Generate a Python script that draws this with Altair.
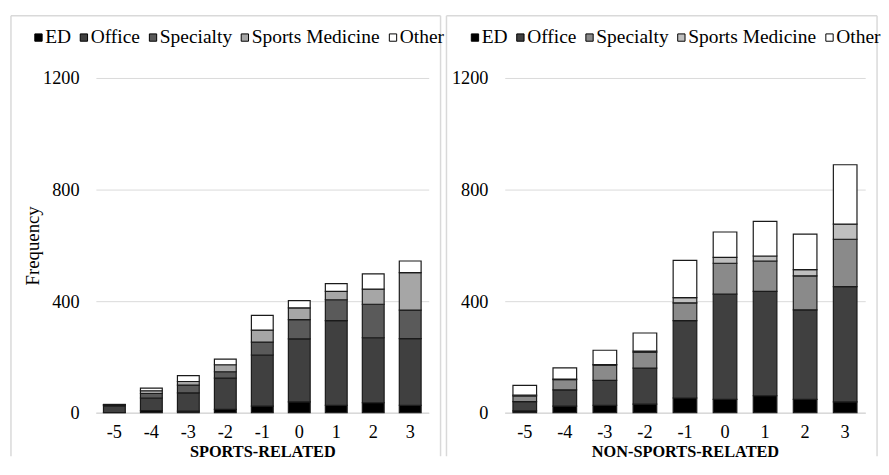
import altair as alt
import pandas as pd

periods = ["-5", "-4", "-3", "-2", "-1", "0", "1", "2", "3"]
categories = ["ED", "Office", "Specialty", "Sports Medicine", "Other"]

# SPORTS-RELATED
sp_ed = [1, 8, 6, 12, 24, 39, 27, 36, 27]
sp_office = [24, 45, 65, 112, 183, 226, 303, 233, 239]
sp_specialty = [3, 16, 28, 23, 46, 69, 75, 120, 102]
sp_sportsmed = [1, 10, 13, 25, 43, 42, 30, 54, 134]
sp_other = [1, 9, 21, 20, 53, 26, 28, 55, 42]

# NON-SPORTS-RELATED
ns_ed = [7, 24, 27, 31, 53, 48, 61, 48, 39]
ns_office = [33, 58, 89, 129, 277, 377, 374, 321, 413]
ns_specialty = [20, 37, 55, 57, 64, 111, 109, 122, 170]
ns_sportsmed = [3, 2, 2, 4, 19, 21, 18, 22, 54]
ns_other = [35, 40, 51, 65, 133, 91, 124, 127, 213]

sp_colors = ["#000000", "#404040", "#5a5a5a", "#a6a6a6", "#ffffff"]
ns_colors = ["#000000", "#404040", "#8a8a8a", "#bfbfbf", "#ffffff"]

FONT = "Liberation Serif"


def long_df(series):
    rows = []
    for ci, (cat, vals) in enumerate(zip(categories, series)):
        for p, v in zip(periods, vals):
            rows.append({"period": p, "category": cat, "count": v, "idx": ci})
    return pd.DataFrame(rows)


def panel(series, colors, xtitle, ytitle, width, legend_x, border_left):
    df = long_df(series)
    yaxis_kwargs = dict(
        values=[0, 400, 800, 1200], format="d",
        labelFont=FONT, labelFontSize=18.5, labelColor="black", labelPadding=17,
        ticks=False, domain=False, grid=True, gridColor="#d9d9d9", gridWidth=1,
    )
    if ytitle:
        yaxis = alt.Axis(title=ytitle, titleFont=FONT, titleFontSize=19,
                         titleFontWeight="normal", titleColor="black",
                         titlePadding=0, **yaxis_kwargs)
    else:
        yaxis = alt.Axis(title=None, **yaxis_kwargs)

    bars = alt.Chart(df).mark_bar(stroke="#1a1a1a", strokeWidth=1.2).encode(
        x=alt.X("period:N", sort=periods,
                scale=alt.Scale(paddingInner=0.41, paddingOuter=0.205),
                axis=alt.Axis(title=xtitle, labelAngle=0, labelFont=FONT,
                              labelFontSize=18.5, labelColor="black",
                              labelPadding=10, ticks=False, domain=True,
                              domainColor="#d9d9d9", domainWidth=1.5,
                              titleFont=FONT, titleFontSize=16.5,
                              titleFontWeight="bold", titleColor="black",
                              titlePadding=3, grid=False)),
        y=alt.Y("count:Q", stack="zero",
                scale=alt.Scale(domain=[0, 1200], nice=False), axis=yaxis),
        color=alt.Color("category:N",
                        scale=alt.Scale(domain=categories, range=colors),
                        legend=alt.Legend(orient="none", legendX=legend_x,
                                          legendY=-51, direction="horizontal",
                                          columns=5, title=None,
                                          symbolType="square", symbolSize=55,
                                          symbolStrokeColor="black",
                                          symbolStrokeWidth=1,
                                          labelFont=FONT, labelFontSize=19.7,
                                          labelColor="black",
                                          labelOffset={"expr": "-3"},
                                          columnPadding=3)),
        order=alt.Order("idx:Q", sort="ascending"),
    )
    one = pd.DataFrame({"a": [0]})
    edge = dict(stroke="#d9d9d9", strokeWidth=1.5)
    top = alt.Chart(one).mark_rule(**edge).encode(
        x=alt.value(border_left), x2=alt.value(width + 12), y=alt.value(-63))
    lft = alt.Chart(one).mark_rule(**edge).encode(
        x=alt.value(border_left), y=alt.value(-63), y2=alt.value(383))
    rgt = alt.Chart(one).mark_rule(**edge).encode(
        x=alt.value(width + 12), y=alt.value(-63), y2=alt.value(383))
    return alt.layer(top, lft, rgt, bars).properties(width=width, height=339)


left = panel([sp_ed, sp_office, sp_specialty, sp_sportsmed, sp_other],
             sp_colors, "SPORTS-RELATED", "Frequency", 337, -68, -86)
right = panel([ns_ed, ns_office, ns_specialty, ns_sportsmed, ns_other],
              ns_colors, "NON-SPORTS-RELATED", None, 365, -40, -59)

chart = alt.hconcat(left, right, spacing=77, bounds="flush").resolve_scale(
    color="independent"
).resolve_legend(color="independent").configure(
    font=FONT
).configure_view(stroke=None).configure_axis(
    labelFont=FONT, titleFont=FONT
).configure_legend(labelFont=FONT).properties(
    padding={"left": 2, "top": 4, "right": 0, "bottom": 0},
    background="white",
)

chart.save("out.html", embed_options={"renderer": "svg", "actions": False})
